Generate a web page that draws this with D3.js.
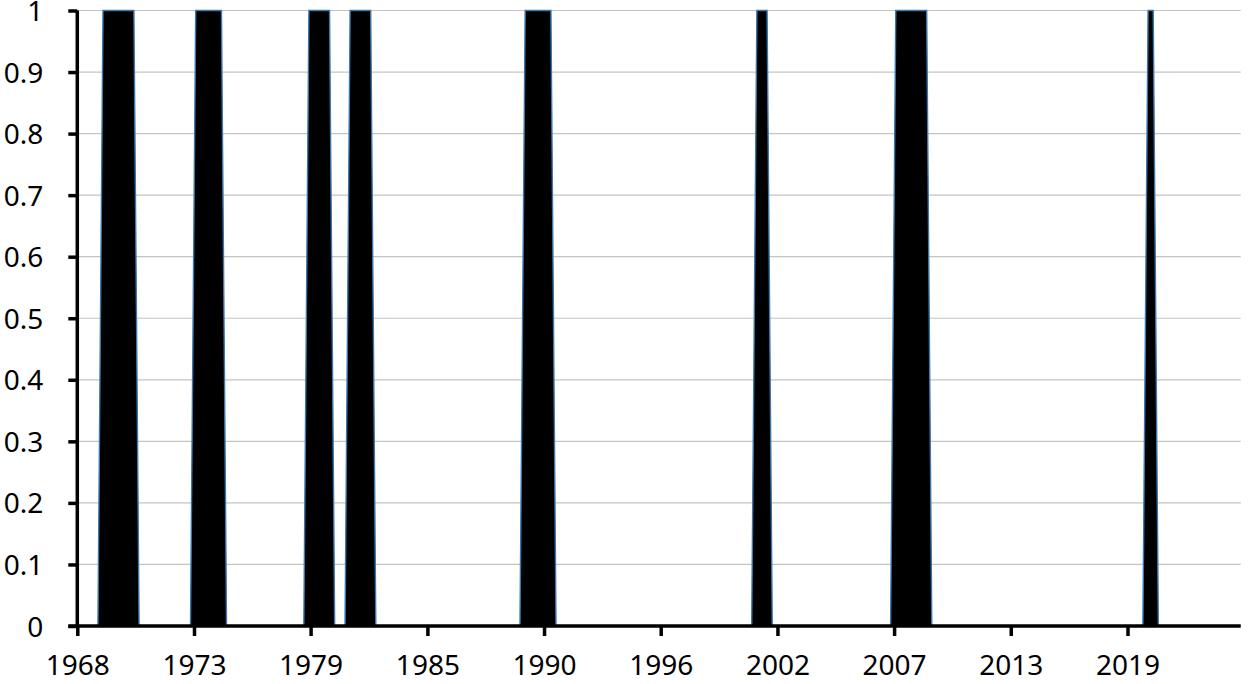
<!DOCTYPE html>
<html>
<head>
<meta charset="utf-8">
<script src="https://cdn.jsdelivr.net/npm/d3@7"></script>
<style>
  html, body { margin: 0; padding: 0; background: #fff; }
  svg { display: block; }
</style>
</head>
<body>
<svg id="chart"></svg>
<script>
// Quarterly 0/1 series: quarters flagged 1 (first month of the quarter)
const recessionStart = ["1969-04", "1973-10", "1979-04", "1981-04", "1989-10", "2001-01", "2007-10", "2020-01"];
const recessionEnd   = ["1970-10", "1975-01", "1980-04", "1982-04", "1991-01", "2001-07", "2009-04", "2020-04"];

// First and last quarter of the series
const seriesStart = "1968-01";
const seriesEnd = "2024-07";

// Axis labels (a label every 68 months from Jan 1968)
const tickDates = ["1968-01", "1973-09", "1979-05", "1985-01", "1990-09", "1996-05", "2002-01", "2007-09", "2013-05", "2019-01"];
const tickLabels = ["1968", "1973", "1979", "1985", "1990", "1996", "2002", "2007", "2013", "2019"];
const yTicks = [0, 0.1, 0.2, 0.3, 0.4, 0.5, 0.6, 0.7, 0.8, 0.9, 1];

const parse = d3.timeParse("%Y-%m");

// Vertices of the line: each flagged run ramps up from the quarter before
// and back down to the quarter after
const points = [{ date: parse(seriesStart), value: 0 }];
recessionStart.forEach((s, i) => {
    const start = parse(s);
    const end = parse(recessionEnd[i]);
    points.push({ date: d3.timeMonth.offset(start, -3), value: 0 });
    points.push({ date: start, value: 1 });
    points.push({ date: end, value: 1 });
    points.push({ date: d3.timeMonth.offset(end, 3), value: 0 });
});
points.push({ date: parse(seriesEnd), value: 0 });

const W = 1248, H = 684;
const margin = { top: 10.5, right: 7.3, bottom: 58, left: 77.3 };
const width = W - margin.left - margin.right;
const height = H - margin.top - margin.bottom;

const svg = d3.select("#chart")
    .attr("width", W)
    .attr("height", H)
    .append("g")
    .attr("transform", `translate(${margin.left},${margin.top})`);

const x = d3.scaleTime()
    .domain([parse(seriesStart), parse(seriesEnd)])
    .range([0, width]);

const y = d3.scaleLinear()
    .domain([0, 1])
    .range([height, 0]);

const font = "'Noto Sans', 'Open Sans', sans-serif";

// Gridlines
svg.append("g")
    .selectAll("line")
    .data(yTicks.slice(1))
    .enter().append("line")
    .attr("x1", 0)
    .attr("x2", width)
    .attr("y1", d => y(d))
    .attr("y2", d => y(d))
    .attr("stroke", "#c4c4c4")
    .attr("stroke-width", 1.2);

// Filled series
const area = d3.area()
    .x(d => x(d.date))
    .y0(y(0))
    .y1(d => y(d.value));

svg.append("path")
    .datum(points)
    .attr("fill", "#000")
    .attr("stroke", "#3a78ad")
    .attr("stroke-width", 1.4)
    .attr("stroke-linejoin", "miter")
    .attr("d", area);

// Y axis
const yAxis = svg.append("g")
    .call(d3.axisLeft(y)
        .tickValues(yTicks)
        .tickSize(9)
        .tickPadding(25)
        .tickFormat(d => d3.format("")(+d.toFixed(1))));

yAxis.select(".domain")
    .attr("stroke", "#000")
    .attr("stroke-width", 3.5)
    .attr("d", `M0,${y(1)}V${y(0)}`);
yAxis.selectAll(".tick line")
    .attr("stroke", "#000")
    .attr("stroke-width", 3.5);
yAxis.selectAll("text")
    .attr("font-family", font)
    .attr("font-size", "28px")
    .attr("dy", "0.36em")
    .attr("fill", "#000");

// X axis
const xAxis = svg.append("g")
    .attr("transform", `translate(0,${height})`)
    .call(d3.axisBottom(x)
        .tickValues(tickDates.map(parse))
        .tickSize(10)
        .tickPadding(19)
        .tickFormat((d, i) => tickLabels[i]));

xAxis.select(".domain")
    .attr("stroke", "#000")
    .attr("stroke-width", 3.5)
    .attr("d", `M-9,0H${width}`);
xAxis.selectAll(".tick line")
    .attr("stroke", "#000")
    .attr("stroke-width", 3.5);
xAxis.selectAll("text")
    .attr("font-family", font)
    .attr("font-size", "28px")
    .attr("fill", "#000");
</script>
</body>
</html>
